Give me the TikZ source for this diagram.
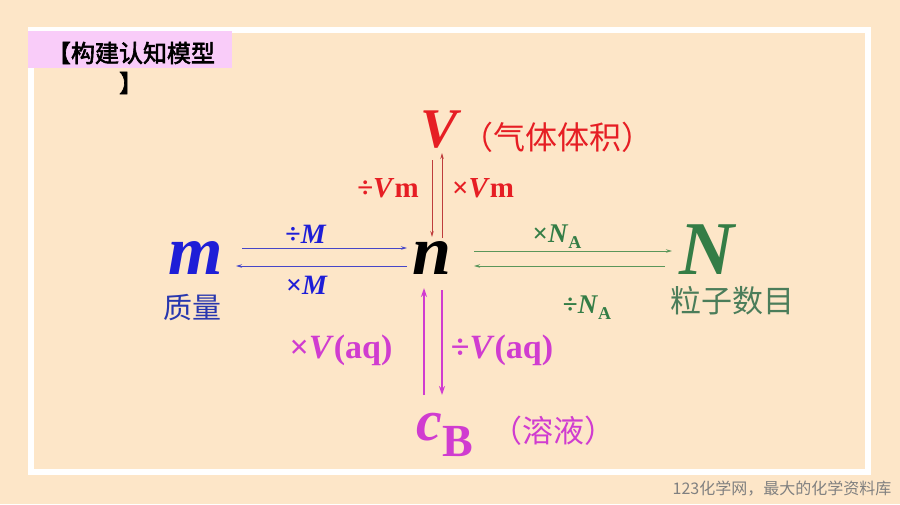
\documentclass[tikz,border=0pt]{standalone}
\usepackage{fontspec}
\setmainfont{Liberation Serif}
\newfontfamily\cjk{Noto Sans CJK SC}
\newfontfamily\cjkb[FakeBold=2.5]{Noto Sans CJK SC}
\usetikzlibrary{arrows.meta}
\definecolor{bgpeach}{RGB}{253,230,200}
\definecolor{boxpink}{RGB}{249,204,249}
\definecolor{qred}{RGB}{230,30,36}
\definecolor{qblue}{RGB}{30,30,215}
\definecolor{qgreen}{RGB}{52,125,70}
\definecolor{qmag}{RGB}{208,60,208}
\definecolor{lred}{RGB}{190,60,60}
\definecolor{lblue}{RGB}{70,70,200}
\definecolor{lgreen}{RGB}{90,150,90}
\definecolor{cgreen}{RGB}{75,125,90}
\definecolor{cblue}{RGB}{40,55,175}
\newcommand\setfs[1]{\fontsize{#1}{#1}\selectfont}

\begin{document}
\begin{tikzpicture}[x=1pt,y=-1pt,
  every node/.style={inner sep=0pt},
  qty/.style={font=\bfseries\itshape},
  lbl/.style={anchor=base,font=\bfseries},
  thin arr/.style={line width=0.9pt,-{Stealth[length=6pt,width=3.5pt]}},
  thick arr/.style={line width=2pt,-{Stealth[length=9pt,width=6pt]}}]
\useasboundingbox (0,0) rectangle (900,504);
\fill[bgpeach] (0,0) rectangle (900,504);
\draw[white,line width=6pt] (31,30) rectangle (868,472);
\fill[boxpink] (28,31) rectangle (232,68);
\node[align=center,font=\cjkb\setfs{24}] (title) at (131,68) {【构建认知模型\\[6pt]】};

% quantities
\node[qty,text=qred,font=\bfseries\itshape\setfs{56}] (V) at (439,130) {V};
\node[qty,font=\bfseries\itshape\setfs{70}] (n) at (432,258) {n};
\node[qty,text=qblue,font=\bfseries\itshape\setfs{70}] (m) at (196,258) {m};
\node[qty,text=qgreen,font=\bfseries\itshape\setfs{76}] (N) at (707,250) {N};
\node[anchor=base,text=qmag] (cB) at (445,440)
  {\bfseries\itshape\setfs{58}c\raisebox{-16pt}{\upshape\setfs{46}B}};

% names
\node[text=qred,font=\cjk\setfs{32}] (Vname) at (557,137) {（气体体积）};
\node[text=cblue,font=\cjk\setfs{29}] (mname) at (192,308) {质量};
\node[text=cgreen,font=\cjk\setfs{31}] (Nname) at (732,301) {粒子数目};
\node[text=qmag,font=\cjk\setfs{31}] (cname) at (553,431) {（溶液）};

% V -- n
\draw[thin arr,lred] ([xshift=-7pt,yshift=-30pt]V.center) -- ([yshift=21pt]n.center);
\draw[thin arr,lred] ([xshift=10pt,yshift=20pt]n.center) -- ([xshift=3pt,yshift=-23pt]V.center);
\node[lbl,text=qred,font=\bfseries\setfs{29}] (dVm) at (388,197) {÷\textit{V}m};
\node[lbl,text=qred,font=\bfseries\setfs{29}] (mVm) at (483,197) {×\textit{V}m};

% m -- n
\draw[thin arr,lblue] ([xshift=46pt,yshift=10pt]m.center) -- ([xshift=-25pt,yshift=10pt]n.center);
\draw[thin arr,lblue] ([xshift=-25pt,yshift=-8pt]n.center) -- ([xshift=40pt,yshift=-8pt]m.center);
\node[lbl,text=qblue,font=\bfseries\setfs{28}] (dM) at (306,243) {÷\textit{M}};
\node[lbl,text=qblue,font=\bfseries\setfs{28}] (mM) at (307,294) {×\textit{M}};

% n -- N
\draw[thin arr,lgreen] ([xshift=42pt,yshift=7pt]n.center) -- ([xshift=-35pt,yshift=-1pt]N.center);
\draw[thin arr,lgreen] ([xshift=-42pt,yshift=-16pt]N.center) -- ([xshift=42pt,yshift=-8pt]n.center);
\node[lbl,text=qgreen,font=\bfseries\setfs{27}] (mNA) at (557,242) {×\textit{N}\raisebox{-6pt}{\setfs{18}A}};
\node[lbl,text=qgreen,font=\bfseries\setfs{27}] (dNA) at (587,313) {÷\textit{N}\raisebox{-6pt}{\setfs{18}A}};

% n -- cB
\draw[thick arr,qmag] ([xshift=-21pt,yshift=45pt]cB.base) -- ([xshift=-8pt,yshift=-30pt]n.center);
\draw[thick arr,qmag] ([xshift=10pt,yshift=-32pt]n.center) -- ([xshift=-3pt,yshift=45pt]cB.base);
\node[lbl,text=qmag,font=\bfseries\setfs{34}] (mVaq) at (341,358) {×\textit{V}(aq)};
\node[lbl,text=qmag,font=\bfseries\setfs{34}] (dVaq) at (502,358) {÷\textit{V}(aq)};

\node[text=gray,font=\cjk\setfs{16}] (foot) at (782,489) {123化学网，最大的化学资料库};
\end{tikzpicture}
\end{document}
